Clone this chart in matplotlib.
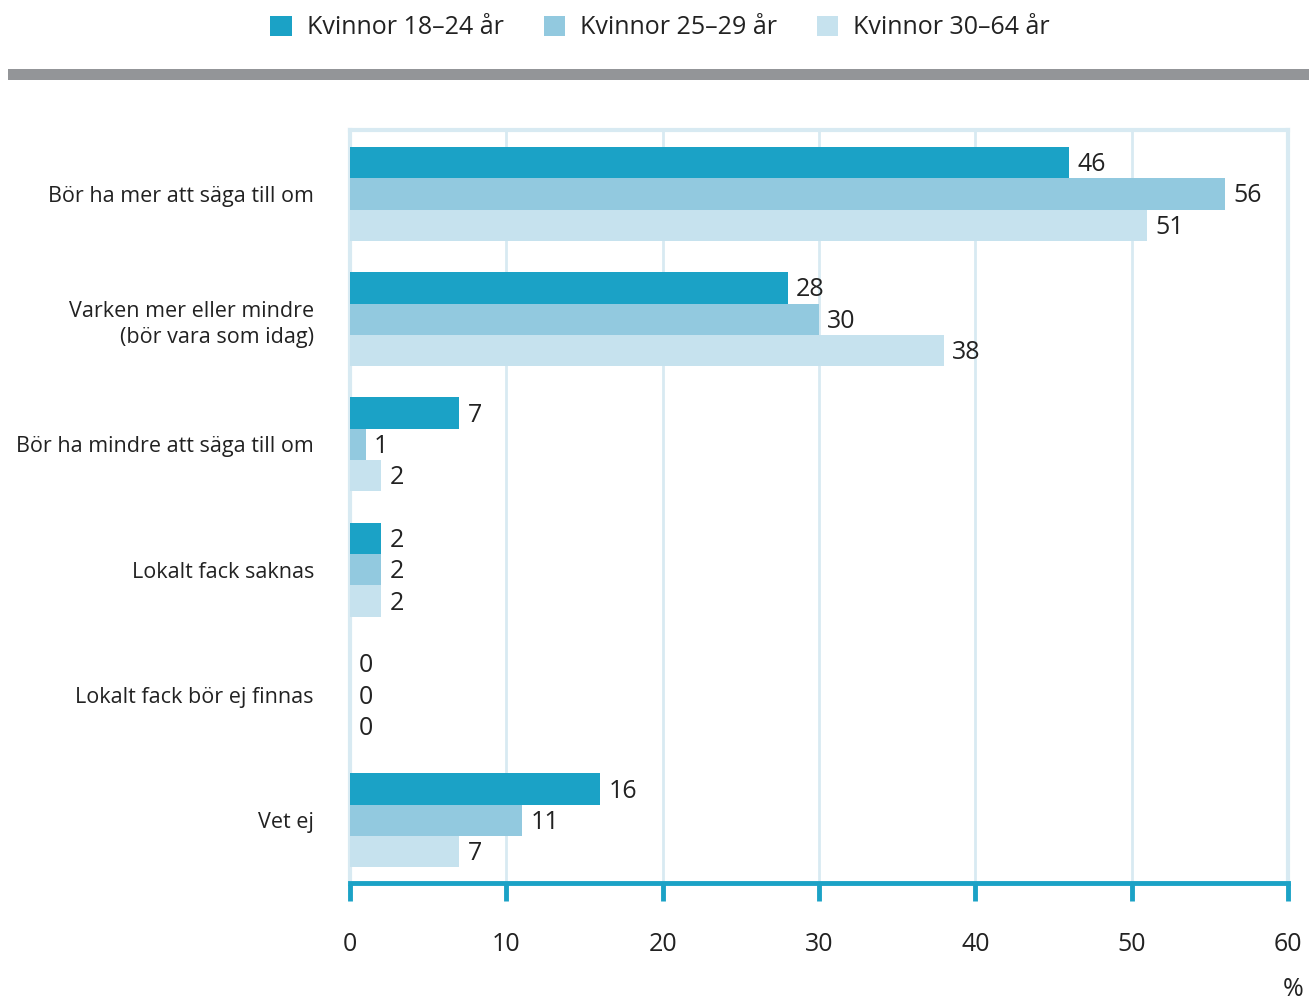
import matplotlib

matplotlib.use("Agg")

import matplotlib.pyplot as plt
import numpy as np
from matplotlib.patches import Rectangle

plt.rcParams["font.family"] = ["Open Sans", "DejaVu Sans"]

categories = [
    "Bör ha mer att säga till om",
    "Varken mer eller mindre\n(bör vara som idag)",
    "Bör ha mindre att säga till om",
    "Lokalt fack saknas",
    "Lokalt fack bör ej finnas",
    "Vet ej",
]
series_names = ["Kvinnor 18–24 år", "Kvinnor 25–29 år", "Kvinnor 30–64 år"]
women_18_24 = [46, 28, 7, 2, 0, 16]
women_25_29 = [56, 30, 1, 2, 0, 11]
women_30_64 = [51, 38, 2, 2, 0, 7]
x_ticks = [0, 10, 20, 30, 40, 50, 60]

colors = ["#1ba2c6", "#92c9df", "#c6e2ee"]
axis_blue = "#1ba2c6"
frame_blue = "#d8eaf2"
text_color = "#222222"

W, H = 1309, 1002
fig = plt.figure(figsize=(W / 100, H / 100), dpi=100)

ax = fig.add_axes([350 / W, 1 - 883 / H, (1288 - 350) / W, (883 - 130) / H])

y = np.arange(len(categories))
bar_h = 0.25
series = [women_18_24, women_25_29, women_30_64]
for i, vals in enumerate(series):
    pos = y + (i - 1) * bar_h
    ax.barh(pos, vals, height=bar_h, color=colors[i], zorder=3, label=series_names[i])
    for p, v in zip(pos, vals):
        ax.annotate(
            f"{v}",
            xy=(v, p),
            xytext=(6, -1.5),
            textcoords="offset points",
            va="center",
            ha="left",
            fontsize=18,
            color=text_color,
        )

ax.set_xlim(0, 60)
ax.set_ylim(5.5, -0.51)

ax.set_xticks(x_ticks)
ax.set_xticklabels([str(t) for t in x_ticks], fontsize=18, color=text_color)
ax.tick_params(axis="x", length=13, width=3.5, color=axis_blue, pad=22)
ax.set_yticks(y)
ax.set_yticklabels(categories, fontsize=15.5, color=text_color, ha="right",
                   linespacing=1.35)
ax.tick_params(axis="y", length=0, pad=26)

for t in x_ticks[1:-1]:
    ax.axvline(t, color=frame_blue, linewidth=2, zorder=1)

for side in ["top", "left", "right"]:
    ax.spines[side].set_color(frame_blue)
    ax.spines[side].set_linewidth(3)
ax.spines["bottom"].set_color(axis_blue)
ax.spines["bottom"].set_linewidth(3.5)

fig.text(1303 / W, 1 - 990 / H, "%", fontsize=18, color=text_color, ha="right", va="center")

# grey band under the legend
fig.add_artist(
    Rectangle((8 / W, 1 - 80 / H), 1 - 8 / W, 11 / H, transform=fig.transFigure,
              color="#939598", linewidth=0)
)

handles, labels = ax.get_legend_handles_labels()
fig.legend(
    handles,
    labels,
    loc="center",
    bbox_to_anchor=(660 / W, 1 - 28 / H),
    ncol=3,
    frameon=False,
    fontsize=18,
    handlelength=0.85,
    handleheight=0.85,
    handletextpad=0.6,
    columnspacing=1.6,
    labelcolor=text_color,
)

fig.savefig("out.png", dpi=100)
